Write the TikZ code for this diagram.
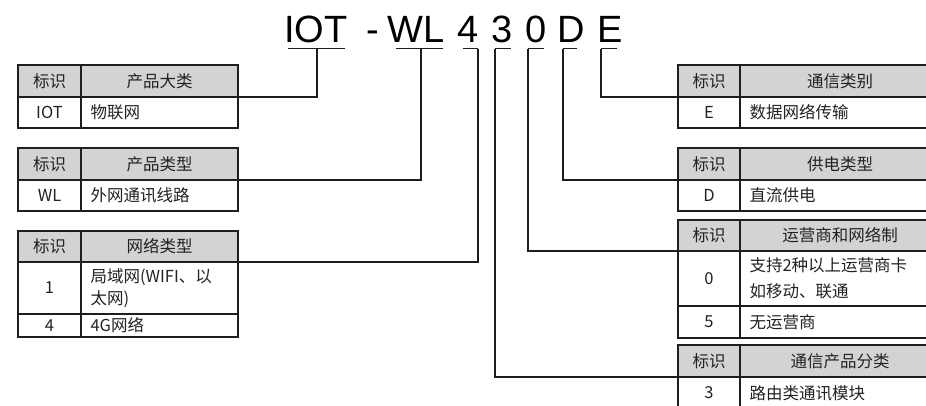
\documentclass[tikz,border=0pt]{standalone}
\usepackage{fontspec}
\setmainfont{Noto Sans CJK SC}
\newfontfamily\titlefont{Liberation Sans}
\definecolor{linec}{HTML}{1E1E1E}
\definecolor{hdr}{HTML}{D3D3D3}
\definecolor{txt}{HTML}{222222}
\begin{document}
\begin{tikzpicture}[x=1pt,y=-1pt,
  cell/.style={draw=linec, line width=1.3pt, inner sep=0pt, outer sep=0pt, anchor=north west, text=txt, font=\fontsize{16.5}{22}\selectfont},
  hcell/.style={cell, fill=hdr},
  lcell/.style={cell, align=left, inner xsep=9.5pt},
  ttl/.style={font=\titlefont\fontsize{38}{40}\selectfont, anchor=base, inner sep=0pt, text=black},
  uline/.style={draw=linec, line width=1pt},
  conn/.style={draw=linec, line width=1.2pt}]
\useasboundingbox (0,0) rectangle (926,406);
\clip (0,0) rectangle (926,406);
% title
\node[ttl] (tI) at (316,43) {IOT};
\node[ttl] (tH) at (373,43) {-};
\node[ttl] (tW) at (416,43) {WL};
\node[ttl] (t4) at (468,43) {4};
\node[ttl] (t3) at (502.5,43) {3};
\node[ttl] (t0) at (536,43) {0};
\node[ttl] (tD) at (571.5,43) {D};
\node[ttl] (tE) at (610,43) {E};
% underlines
\draw[uline] (288,49) -- (345,49);
\draw[uline] (396,49) -- (443,49);
\draw[uline] (463,49) -- (478,49);
\draw[uline] (495,49) -- (511,49);
\draw[uline] (528,49) -- (544,49);
\draw[uline] (563,49) -- (577,49);
\draw[uline] (601,49) -- (617,49);
\coordinate (cI) at (317,49);
\coordinate (cW) at (421,49);
\coordinate (c4) at (478,49);
\coordinate (c3) at (495,49);
\coordinate (c0) at (528,49);
\coordinate (cD) at (563,49);
\coordinate (cE) at (601,49);
% left table 1
\node[hcell, minimum width=63, minimum height=32] (a1) at (18,65) {标识};
\node[hcell, minimum width=157, minimum height=32] (a2) at (81,65) {产品大类};
\node[cell, minimum width=63, minimum height=31] (a3) at (18,97) {IOT};
\node[lcell, text width=138, minimum height=31] (a4) at (81,97) {物联网};
% left table 2
\node[hcell, minimum width=63, minimum height=32] (b1) at (18,148) {标识};
\node[hcell, minimum width=157, minimum height=32] (b2) at (81,148) {产品类型};
\node[cell, minimum width=63, minimum height=31] (b3) at (18,180) {WL};
\node[lcell, text width=138, minimum height=31] (b4) at (81,180) {外网通讯线路};
% left table 3
\node[hcell, minimum width=63, minimum height=31] (n1) at (18,231) {标识};
\node[hcell, minimum width=157, minimum height=31] (n2) at (81,231) {网络类型};
\node[cell, minimum width=63, minimum height=52] (n3) at (18,262) {1};
\node[lcell, text width=138, minimum height=52] (n4) at (81,262) {局域网(WIFI、以\\太网)};
\node[cell, minimum width=63, minimum height=23] (n5) at (18,314) {4};
\node[lcell, text width=138, minimum height=23] (n6) at (81,314) {4G网络};
% right table 1
\node[hcell, minimum width=62, minimum height=32] (e1) at (678,65) {标识};
\node[hcell, minimum width=200, minimum height=32] (e2) at (740,65) {通信类别};
\node[cell, minimum width=62, minimum height=31] (e3) at (678,97) {E};
\node[lcell, text width=180, minimum height=31] (e4) at (740,97) {数据网络传输};
% right table 2
\node[hcell, minimum width=62, minimum height=32] (d1) at (678,148) {标识};
\node[hcell, minimum width=200, minimum height=32] (d2) at (740,148) {供电类型};
\node[cell, minimum width=62, minimum height=31] (d3) at (678,180) {D};
\node[lcell, text width=180, minimum height=31] (d4) at (740,180) {直流供电};
% right table 3
\node[hcell, minimum width=62, minimum height=31] (o1) at (678,220) {标识};
\node[hcell, minimum width=200, minimum height=31] (o2) at (740,220) {运营商和网络制};
\node[cell, minimum width=62, minimum height=55] (o3) at (678,251) {0};
\node[lcell, text width=180, minimum height=55, font=\fontsize{16.5}{26}\selectfont] (o4) at (740,251) {支持2种以上运营商卡\\如移动、联通};
\node[cell, minimum width=62, minimum height=32] (o5) at (678,306) {5};
\node[lcell, text width=180, minimum height=32] (o6) at (740,306) {无运营商};
% right table 4
\node[hcell, minimum width=62, minimum height=32] (p1) at (678,345) {标识};
\node[hcell, minimum width=200, minimum height=32] (p2) at (740,345) {通信产品分类};
\node[cell, minimum width=62, minimum height=32] (p3) at (678,377) {3};
\node[lcell, text width=180, minimum height=32] (p4) at (740,377) {路由类通讯模块};
% connectors
\draw[conn] (cI) |- (a2.south east);
\draw[conn] (cW) |- (b2.south east);
\draw[conn] (c4) |- (n2.south east);
\draw[conn] (cE) |- (e1.south west);
\draw[conn] (cD) |- (d1.south west);
\draw[conn] (c0) |- (o1.south west);
\draw[conn] (c3) |- (p1.south west);
\end{tikzpicture}
\end{document}
